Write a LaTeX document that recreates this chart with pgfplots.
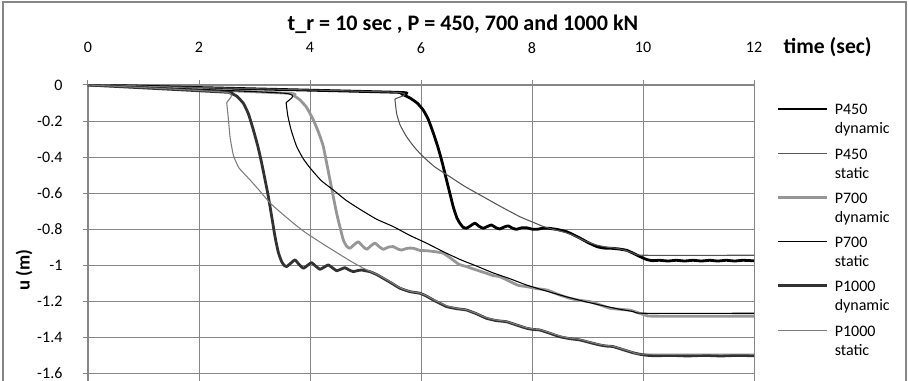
\documentclass[border=0pt]{standalone}
\usepackage{fontspec}
\setmainfont{Carlito}
\usepackage{pgfplots}
\pgfplotsset{compat=1.18}
\definecolor{axgray}{RGB}{134,134,134}
\definecolor{p450s}{RGB}{85,85,85}
\definecolor{p700d}{RGB}{150,150,150}
\definecolor{p1000d}{RGB}{50,50,50}
\definecolor{p1000s}{RGB}{125,125,125}
\newcommand{\legtxt}[2]{\begin{tabular}[t]{@{}l@{}}#1\\#2\end{tabular}}
\begin{document}
\begin{tikzpicture}
\useasboundingbox (-66pt,0pt) rectangle (615.75pt,285.75pt);
\draw[axgray, line width=1.1pt] (-63.75pt,-2pt) -- (-63.75pt,284.25pt) -- (613.5pt,284.25pt) -- (613.5pt,-2pt);
\begin{axis}[
  scale only axis, width=499.5pt, height=222pt,
  at={(0pt,0pt)}, anchor=south west,
  xmin=0, xmax=12, ymin=-1.643, ymax=0,
  axis x line*=top, axis y line*=left,
  xtick={0,2,4,6,8,10,12}, xticklabels={0,2,4,6,8,10,12},
  ytick={-1.6,-1.4,-1.2,-1,-0.8,-0.6,-0.4,-0.2,0},
  yticklabels={-1.6,-1.4,-1.2,-1,-0.8,-0.6,-0.4,-0.2,0},
  grid=major, major grid style={color=axgray, line width=0.75pt},
  axis line style={color=axgray, line width=1.5pt, -},
  tick style={color=axgray, line width=0.75pt},
  tick align=outside, major tick length=4pt,
  tick label style={font=\fontsize{12}{14}\selectfont},
  xticklabel style={anchor=center, yshift=24pt},
  yticklabel style={anchor=east, inner sep=0pt, xshift=-15pt},
  title={t\_r = 10 sec , P = 450, 700 and 1000 kN},
  title style={at={(axis description cs:0.563,1.179)}, anchor=center, font=\bfseries\fontsize{16.6}{19}\selectfont},
  xlabel={time (sec)},
  xlabel style={at={(axis description cs:1.0375,1.128)}, anchor=west, font=\bfseries\fontsize{16.2}{19}\selectfont},
  ylabel={u (m)},
  ylabel style={at={(axis description cs:-0.0961,0.375)}, anchor=center, font=\bfseries\fontsize{14}{17}\selectfont},
  legend cell align=left,
  legend style={at={(axis description cs:1.0345,0.9436)}, anchor=north west, draw=none, fill=none,
    inner sep=0pt, outer sep=0pt, row sep=21.7pt, column sep=4.5pt,
    nodes={inner sep=0pt, font=\fontsize{12}{14.25}\selectfont}},
  legend image code/.code={\draw[#1] (0pt,0.3pt) -- (36.75pt,0.3pt);},
  clip=true,
  every axis plot/.append style={line join=round, smooth, tension=0.3},
]
% P450 dynamic
\addplot[black, line width=2.1pt] coordinates {
(0,0) (5.5,-0.040) (5.65,-0.050) (5.80,-0.072) (5.93,-0.100) (6.04,-0.139) (6.13,-0.19)
(6.22,-0.265) (6.30,-0.34) (6.37,-0.416) (6.46,-0.527) (6.58,-0.675) (6.65,-0.74)
(6.70,-0.767) (6.76,-0.790) (6.82,-0.795) (6.90,-0.78) (6.97,-0.767) (7.05,-0.785)
(7.12,-0.795) (7.20,-0.785) (7.27,-0.777) (7.35,-0.792) (7.42,-0.799) (7.50,-0.788)
(7.57,-0.782) (7.65,-0.795) (7.72,-0.801) (7.81,-0.793) (7.90,-0.792) (8.00,-0.800)
(8.09,-0.801) (8.20,-0.795) (8.32,-0.796) (8.47,-0.803) (8.62,-0.814) (8.75,-0.832)
(8.87,-0.851) (9.02,-0.876) (9.17,-0.897) (9.29,-0.905) (9.41,-0.906) (9.56,-0.910)
(9.71,-0.918) (9.83,-0.935) (9.95,-0.953) (10.06,-0.968) (10.16,-0.975) (10.3,-0.973)
(10.45,-0.977) (10.6,-0.973) (10.75,-0.977) (10.9,-0.973) (11.05,-0.977) (11.2,-0.973)
(11.35,-0.977) (11.5,-0.973) (11.65,-0.977) (11.8,-0.973) (12,-0.976)};
\addlegendentry{\legtxt{P450}{dynamic}}
% P450 static
\addplot[p450s, line width=0.8pt] coordinates {
(0,0) (5.50,-0.040) (5.53,-0.08) (5.56,-0.157) (5.62,-0.22) (5.74,-0.287) (5.88,-0.345)
(6.04,-0.398) (6.25,-0.455) (6.52,-0.509) (6.80,-0.565) (7.12,-0.620) (7.42,-0.672)
(7.78,-0.731) (8.02,-0.762) (8.20,-0.785) (8.38,-0.801) (8.56,-0.815) (8.74,-0.834)
(8.95,-0.865) (9.17,-0.889) (9.35,-0.900) (9.53,-0.907) (9.68,-0.918) (9.83,-0.934)
(10.0,-0.945) (12,-0.945)};
\addlegendentry{\legtxt{P450}{static}}
% P700 dynamic
\addplot[p700d, line width=2.1pt] coordinates {
(0,0) (3.55,-0.045) (3.70,-0.058) (3.82,-0.083) (3.94,-0.125) (4.06,-0.194) (4.15,-0.26)
(4.24,-0.342) (4.36,-0.527) (4.48,-0.712) (4.55,-0.80) (4.60,-0.86) (4.66,-0.895)
(4.72,-0.906) (4.80,-0.885) (4.87,-0.870) (4.95,-0.895) (5.02,-0.912) (5.10,-0.892)
(5.17,-0.878) (5.25,-0.898) (5.32,-0.912) (5.41,-0.900) (5.50,-0.897) (5.58,-0.910)
(5.65,-0.916) (5.76,-0.906) (5.86,-0.906) (5.98,-0.918) (6.10,-0.920) (6.25,-0.925)
(6.40,-0.934) (6.55,-0.965) (6.68,-0.995) (6.82,-1.008) (6.98,-1.025) (7.18,-1.045)
(7.30,-1.058) (7.42,-1.064) (7.60,-1.09) (7.75,-1.112) (7.90,-1.119) (8.08,-1.13)
(8.27,-1.138) (8.45,-1.16) (8.68,-1.184) (8.86,-1.195) (9.05,-1.203) (9.22,-1.22)
(9.40,-1.239) (9.58,-1.245) (9.77,-1.250) (9.92,-1.265) (10.07,-1.28) (10.2,-1.283)
(12,-1.283)};
\addlegendentry{\legtxt{P700}{dynamic}}
% P700 static
\addplot[black, line width=0.8pt] coordinates {
(0,0) (3.55,-0.046) (3.57,-0.10) (3.60,-0.17) (3.66,-0.25) (3.76,-0.342) (3.88,-0.41)
(4.00,-0.46) (4.20,-0.53) (4.42,-0.583) (4.65,-0.64) (4.90,-0.69) (5.20,-0.745)
(5.50,-0.786) (5.80,-0.835) (6.10,-0.878) (6.40,-0.925) (6.70,-0.968) (7.00,-1.005)
(7.30,-1.043) (7.60,-1.075) (7.90,-1.110) (8.25,-1.143) (8.60,-1.174) (8.95,-1.202)
(9.25,-1.223) (9.55,-1.243) (9.83,-1.258) (10.0,-1.267) (12,-1.267)};
\addlegendentry{\legtxt{P700}{static}}
% P1000 dynamic
\addplot[p1000d, line width=2.1pt] coordinates {
(0,0) (2.49,-0.040) (2.56,-0.044) (2.68,-0.062) (2.80,-0.102) (2.89,-0.16) (2.98,-0.25)
(3.06,-0.34) (3.13,-0.435) (3.25,-0.62) (3.37,-0.842) (3.43,-0.93) (3.49,-0.981)
(3.54,-1.003) (3.58,-1.008) (3.65,-0.990) (3.73,-0.971) (3.80,-0.995) (3.88,-1.017)
(3.96,-1.000) (4.03,-0.986) (4.10,-1.005) (4.18,-1.023) (4.26,-1.010) (4.33,-0.999)
(4.41,-1.016) (4.48,-1.031) (4.56,-1.022) (4.63,-1.014) (4.70,-1.026) (4.78,-1.036)
(4.86,-1.030) (4.93,-1.027) (5.01,-1.032) (5.08,-1.036) (5.20,-1.052) (5.32,-1.073)
(5.47,-1.10) (5.62,-1.128) (5.80,-1.147) (5.98,-1.156) (6.10,-1.172) (6.22,-1.193)
(6.35,-1.213) (6.46,-1.23) (6.65,-1.242) (6.82,-1.249) (7.00,-1.270) (7.18,-1.295)
(7.36,-1.308) (7.54,-1.314) (7.72,-1.332) (7.90,-1.350) (8.02,-1.357) (8.14,-1.360)
(8.32,-1.378) (8.50,-1.397) (8.68,-1.408) (8.86,-1.415) (9.05,-1.43) (9.22,-1.443)
(9.34,-1.449) (9.46,-1.452) (9.65,-1.47) (9.82,-1.486) (9.95,-1.495) (10.07,-1.500)
(10.2,-1.503) (10.5,-1.501) (10.8,-1.504) (11.1,-1.501) (11.4,-1.504) (11.7,-1.501) (12,-1.503)};
\addlegendentry{\legtxt{P1000}{dynamic}}
% P1000 static
\addplot[p1000s, line width=0.8pt] coordinates {
(0,0) (2.49,-0.041) (2.50,-0.10) (2.53,-0.19) (2.56,-0.29) (2.62,-0.39) (2.72,-0.46)
(2.92,-0.527) (3.10,-0.59) (3.28,-0.655) (3.50,-0.715) (3.70,-0.767) (3.90,-0.815)
(4.12,-0.86) (4.35,-0.905) (4.60,-0.953) (4.80,-0.99) (4.95,-1.015) (5.08,-1.034)
(5.20,-1.050) (5.32,-1.070) (5.47,-1.097) (5.62,-1.125) (5.80,-1.145) (5.98,-1.155)
(6.10,-1.170) (6.22,-1.19) (6.35,-1.21) (6.46,-1.226) (6.65,-1.240) (6.82,-1.248)
(7.00,-1.268) (7.18,-1.292) (7.36,-1.305) (7.54,-1.312) (7.72,-1.330) (7.90,-1.347)
(8.02,-1.354) (8.14,-1.358) (8.32,-1.375) (8.50,-1.393) (8.68,-1.405) (8.86,-1.412)
(9.05,-1.427) (9.22,-1.440) (9.34,-1.446) (9.46,-1.450) (9.65,-1.468) (9.82,-1.483)
(10.0,-1.494) (12,-1.494)};
\addlegendentry{\legtxt{P1000}{static}}
\end{axis}
\end{tikzpicture}
\end{document}
